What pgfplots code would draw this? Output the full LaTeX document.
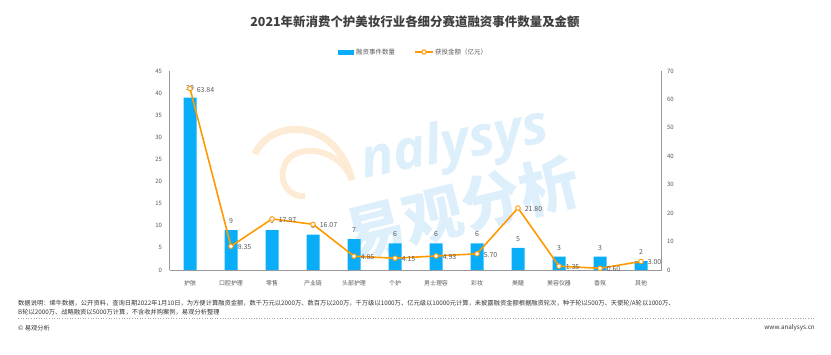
\documentclass[border=0pt]{standalone}
\usepackage{fontspec}
\setmainfont{Noto Sans CJK SC}
\newfontfamily\wmfont{Open Sans}
\usepackage{pgfplots}
\pgfplotsset{compat=1.18}
\definecolor{barblue}{HTML}{0AADF8}
\definecolor{lineor}{HTML}{FF9900}
\definecolor{txt}{HTML}{595959}
\definecolor{wmblue}{HTML}{DDEFFB}
\definecolor{wmor}{HTML}{FDEBD5}
\begin{document}
\begin{tikzpicture}[x=1bp,y=1bp]
\path[use as bounding box] (0,0) rectangle (831,354);
% title
\node[font=\fontsize{12.5}{14}\selectfont\bfseries, text=black!75] at (415,332) {2021年新消费个护美妆行业各细分赛道融资事件数量及金额};
% legend
\fill[barblue] (338,299.5) rectangle (354,304.5);
\node[anchor=west, font=\fontsize{6.5}{7}\selectfont, text=txt, inner sep=0] at (356,302) {融资事件数量};
\draw[lineor, line width=1.5] (415,302) -- (433,302);
\draw[lineor, fill=white, line width=1] (424,302) circle (2.2);
\node[anchor=west, font=\fontsize{6.5}{7}\selectfont, text=txt, inner sep=0] at (435,302) {获投金额（亿元）};
% watermark
\draw[wmor, line width=7] (255,200) .. controls (270,235) and (335,238) .. (352,174);
\draw[wmor, line width=6] (352,174) .. controls (340,205) and (300,212) .. (286,192) .. controls (276,172) and (290,156) .. (305,158);
\node[rotate=11, font=\wmfont\fontsize{55}{55}\selectfont\bfseries\itshape, text=wmblue] at (455,208) {nalysys};
\node[rotate=14, font=\fontsize{60}{60}\selectfont\bfseries, text=wmblue] at (462,146) {易观分析};
\begin{axis}[
  at={(169.5bp,84bp)}, anchor=south west, width=492bp, height=199bp, scale only axis,
  xmin=-0.5, xmax=11.5, ymin=0, ymax=45,
  axis line style={draw=none},
  xtick={0,...,11},
  xticklabels={护肤,口腔护理,零售,产业链,头部护理,个护,男士理容,彩妆,美睫,美容仪器,香氛,其他},
  ytick={0,5,...,45},
  major tick length=0,
  tick align=outside,
  xticklabel style={font=\fontsize{6}{7}\selectfont, text=txt, yshift=-7bp},
  yticklabel style={font=\fontsize{6}{7}\selectfont, text=txt, xshift=-4bp},
  /pgf/number format/assume math mode=true,
  ymajorgrids=false,
  clip=false,
]
\addplot[ybar, bar width=13bp, fill=barblue, draw=none,
  nodes near coords, every node near coord/.append style={font=\fontsize{7}{8}\selectfont, text=txt, yshift=3bp}]
  coordinates {(0,39) (1,9) (2,9) (3,8) (4,7) (5,6) (6,6) (7,6) (8,5) (9,3) (10,3) (11,2)};
\draw[gray!80, line width=0.8] (rel axis cs:0,0) -- (rel axis cs:1,0);
\draw[gray!80, line width=0.8] (rel axis cs:0,0) -- (rel axis cs:0,1);
\draw[gray!80, line width=0.8] (rel axis cs:1,0) -- (rel axis cs:1,1);
\end{axis}
\begin{axis}[
  at={(169.5bp,84bp)}, anchor=south west, width=492bp, height=199bp, scale only axis,
  xmin=-0.5, xmax=11.5, ymin=0, ymax=70,
  axis line style={draw=none},
  xtick=\empty,
  ytick={0,10,...,70},
  yticklabel pos=right,
  major tick length=0,
  yticklabel style={font=\fontsize{6}{7}\selectfont, text=txt, xshift=2bp},
  /pgf/number format/assume math mode=true,
  clip=false,
]
\addplot[lineor, line width=1.6, mark=*, mark options={fill=white, draw=lineor, line width=0.9}, mark size=2.3,
  nodes near coords, point meta=explicit symbolic,
  every node near coord/.append style={font=\fontsize{7}{8}\selectfont, text=txt, anchor=west, xshift=3bp, yshift=-1bp}]
  table[meta=lab] {
x y lab
0 63.84 63.84
1 8.35 8.35
2 17.97 17.97
3 16.07 16.07
4 4.85 4.85
5 4.15 4.15
6 4.93 4.93
7 5.70 5.70
8 21.80 21.80
9 1.35 1.35
10 0.60 0.60
11 3.00 3.00
};
\end{axis}
% notes
\node[anchor=west, font=\fontsize{6.3}{7}\selectfont, text=black!80, inner sep=0] at (18,51) {数据说明：烯牛数据，公开资料，查询日期2022年1月10日，为方便计算融资金额，数千万元以2000万、数百万以200万，千万级以1000万、亿元级以10000元计算，未披露融资金额根据融资轮次，种子轮以500万、天使轮/A轮以1000万、};
\node[anchor=west, font=\fontsize{6.3}{7}\selectfont, text=black!80, inner sep=0] at (18,42) {B轮以2000万、战略融资以5000万计算，不含收并购案例，易观分析整理};
\draw[gray!70, dotted, line width=0.6] (18,36) -- (815,36);
\node[anchor=west, font=\fontsize{6.3}{7}\selectfont, text=black!80, inner sep=0] at (18,26) {© 易观分析};
\node[anchor=east, font=\fontsize{6.3}{7}\selectfont, text=black!80, inner sep=0] at (815,26) {www.analysys.cn};
\end{tikzpicture}
\end{document}
